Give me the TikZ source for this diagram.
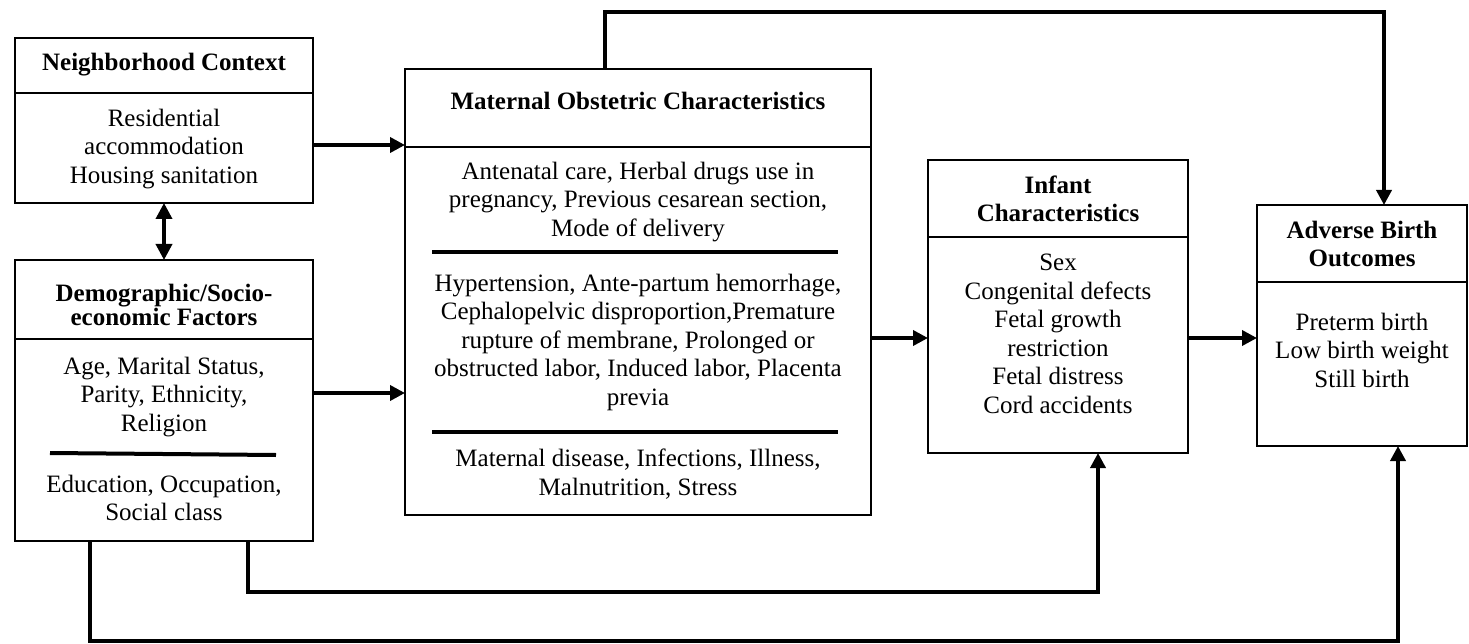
\documentclass[tikz,border=0pt]{standalone}
\usepackage{fontspec}
\setmainfont{Liberation Serif}
\usetikzlibrary{arrows.meta}
\tikzset{
  boxpart/.style={draw, line width=2.4pt, anchor=north west, inner sep=0pt, outer sep=0pt},
  txt/.style={align=center, inner sep=0pt, font=\fontsize{25}{28.5}\selectfont},
  ttl/.style={align=center, inner sep=0pt, font=\fontsize{25}{28.5}\selectfont\bfseries},
  conn/.style={line width=3.6pt, -{Triangle[length=15pt,width=15pt]}},
  dconn/.style={line width=3.6pt, {Triangle[length=16pt,width=16pt]}-{Triangle[length=16pt,width=16pt]}},
  sepline/.style={line width=4pt}
}
\begin{document}
\begin{tikzpicture}[x=1pt,y=-1pt]
\useasboundingbox (0,0) rectangle (1469,644);
% boxes
\node[boxpart, minimum width=298pt, minimum height=55pt] (nbT) at (15,38) {};
\node[boxpart, minimum width=298pt, minimum height=110pt] (nbB) at (15,93) {};
\node[boxpart, minimum width=298pt, minimum height=79pt] (dmT) at (15,260) {};
\node[boxpart, minimum width=298pt, minimum height=202pt] (dmB) at (15,339) {};
\node[boxpart, minimum width=466pt, minimum height=78pt] (moT) at (405,69) {};
\node[boxpart, minimum width=466pt, minimum height=368pt] (moB) at (405,147) {};
\node[boxpart, minimum width=260pt, minimum height=77pt] (inT) at (928,160) {};
\node[boxpart, minimum width=260pt, minimum height=216pt] (inB) at (928,237) {};
\node[boxpart, minimum width=210pt, minimum height=77pt] (adT) at (1257,205) {};
\node[boxpart, minimum width=210pt, minimum height=164pt] (adB) at (1257,282) {};
% texts
\node[ttl] (nbTitle) at (164,65) {Neighborhood Context};
\node[txt] (nbText) at (164,149) {Residential\\accommodation\\Housing sanitation};
\node[ttl, font=\fontsize{25}{22}\selectfont\bfseries] (dmTitle) at (164,305) {Demographic/Socio-\\economic Factors};
\node[txt] (dmText1) at (164,397) {Age, Marital Status,\\Parity, Ethnicity,\\Religion};
\node[txt] (dmText2) at (164,498) {Education, Occupation,\\Social class};
\node[ttl] (moTitle) at (638,101) {Maternal Obstetric Characteristics};
\node[txt] (moText1) at (638,202) {Antenatal care, Herbal drugs use in\\pregnancy, Previous cesarean section,\\Mode of delivery};
\node[txt] (moText2) at (638,342) {Hypertension, Ante-partum hemorrhage,\\Cephalopelvic disproportion,Premature\\rupture of membrane, Prolonged or\\obstructed labor, Induced labor, Placenta\\previa};
\node[txt] (moText3) at (638,474) {Maternal disease, Infections, Illness,\\Malnutrition, Stress};
\node[ttl] (inTitle) at (1058,199) {Infant\\Characteristics};
\node[txt] (inText) at (1058,334) {Sex\\Congenital defects\\Fetal growth\\restriction\\Fetal distress\\Cord accidents};
\node[ttl] (adTitle) at (1362,244) {Adverse Birth\\Outcomes};
\node[txt] (adText) at (1362,350) {Preterm birth\\Low birth weight\\Still birth};
% separator lines
\draw[sepline] (dmB.west |- 0,453) ++(35,0) coordinate (dmSepA) -- (276,455) coordinate (dmSepB);
\draw[sepline] (432,252) coordinate (moSepA) -- (838,252) coordinate (moSepB);
\draw[sepline] (432,432) coordinate (moSepC) -- (838,432) coordinate (moSepD);
% connectors
\draw[conn] (nbB.east |- 0,145) -- (moB.west |- 0,145);
\draw[dconn] (nbB.south) -- (dmT.north);
\draw[conn] (dmB.east |- 0,393) -- (moB.west |- 0,393);
\draw[conn] (moB.east |- 0,338) -- (inB.west |- 0,338);
\draw[conn] (inB.east |- 0,338) -- (adB.west |- 0,338);
\draw[conn] (moT.north -| 605,0) -- (605,12) -| (adT.north -| 1384,0);
\draw[conn] (dmB.south -| 248,0) |- (1098,592) -- (inB.south -| 1098,0);
\draw[conn] (dmB.south -| 90,0) |- (1398,641) -- (adB.south -| 1398,0);
\end{tikzpicture}
\end{document}
